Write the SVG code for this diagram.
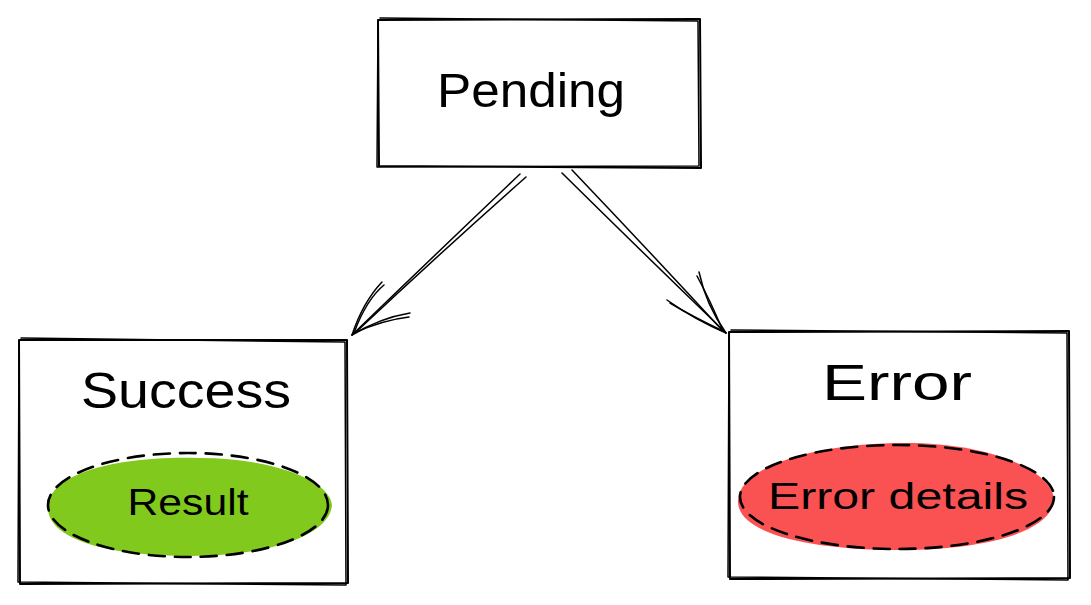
<svg xmlns="http://www.w3.org/2000/svg" width="1091" height="605" viewBox="0 0 1091 605">
<style>
.sk{fill:none;stroke:#000;stroke-width:2;stroke-linecap:round;stroke-linejoin:round}
.sk2{fill:none;stroke:#000;stroke-width:1.5;stroke-linecap:round;stroke-linejoin:round}
.dash{fill:none;stroke:#000;stroke-width:2.6;stroke-dasharray:16 10;stroke-linecap:round}
.t{font-family:"Liberation Sans","DejaVu Sans",sans-serif;fill:#000;text-anchor:middle}
</style>
<rect width="1091" height="605" fill="#fff"/>
<g id="connectors">
  <path class="sk2" d="M520 174 Q440 250 352 335"/>
  <path class="sk2" d="M526 177 Q438 255 355 333"/>
  <path class="sk2" d="M352 335 Q363 302 382 282"/>
  <path class="sk2" d="M354 333 Q366 300 384 285"/>
  <path class="sk2" d="M352 335 Q380 318 410 313"/>
  <path class="sk2" d="M354 333 Q383 320 409 317"/>
  <path class="sk2" d="M562 173 Q640 250 726 333"/>
  <path class="sk2" d="M572 170 Q650 252 722 330"/>
  <path class="sk2" d="M726 333 Q706 305 699 272"/>
  <path class="sk2" d="M723 331 Q710 300 697 276"/>
  <path class="sk2" d="M726 333 Q695 320 667 300"/>
  <path class="sk2" d="M723 331 Q693 317 670 303"/>
</g>
<g id="node-pending">
  <path class="sk" d="M378 20 L700 19 L701 168 L379 166 Z"/>
  <path class="sk2" d="M380 18 L698 21 L699 166 L377 167 L378 22"/>
  <text class="t" x="531" y="107" font-size="48" textLength="188" lengthAdjust="spacingAndGlyphs">Pending</text>
</g>
<g id="node-success">
  <path class="sk" d="M19 340 L347 340 L348 583 L20 584 Z"/>
  <path class="sk2" d="M21 338 L345 342 L346 585 L18 582 L19 342"/>
  <text class="t" x="186" y="408" font-size="50" textLength="210" lengthAdjust="spacingAndGlyphs">Success</text>
</g>
<g id="node-result">
  <path d="M48 506 C50 470 130 455 200 458 C270 458 330 480 332 505 C330 535 270 556 190 556 C110 556 46 540 48 506 Z" fill="#82c91e"/>
  <ellipse class="dash" cx="188" cy="505" rx="140" ry="52"/>
  <text class="t" x="188" y="515" font-size="36" textLength="121" lengthAdjust="spacingAndGlyphs">Result</text>
</g>
<g id="node-error">
  <path class="sk" d="M729 332 L1069 331 L1070 578 L730 579 Z"/>
  <path class="sk2" d="M731 330 L1067 333 L1068 580 L728 577 L729 334"/>
  <text class="t" x="897" y="400" font-size="50" textLength="150" lengthAdjust="spacingAndGlyphs">Error</text>
</g>
<g id="node-error-details">
  <path d="M738 500 C740 465 820 443 905 443 C990 443 1052 470 1054 500 C1052 530 990 550 900 550 C815 550 736 535 738 500 Z" fill="#fa5252"/>
  <ellipse class="dash" cx="897" cy="497" rx="157" ry="52"/>
  <text class="t" x="898" y="509" font-size="36" textLength="260" lengthAdjust="spacingAndGlyphs">Error details</text>
</g>
</svg>
